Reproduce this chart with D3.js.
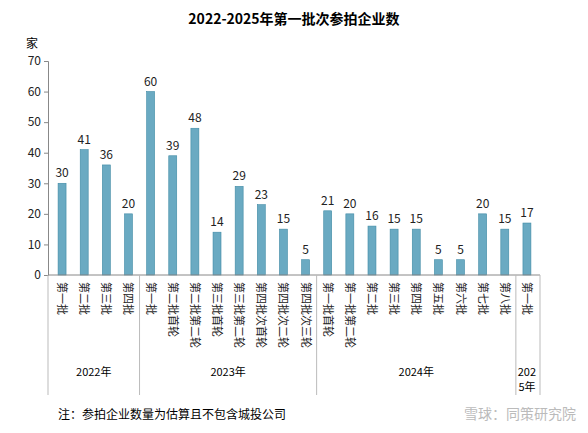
<!DOCTYPE html>
<html><head><meta charset="utf-8">
<script src="https://cdn.jsdelivr.net/npm/d3@7"></script>
<style>body{margin:0;background:#fff}text{font-family:"Noto Sans CJK SC","Noto Sans",sans-serif}</style>
</head><body><div id="chart"></div>
<script>
const batches = ['第一批','第二批','第三批','第四批',
  '第一批','第二批首轮','第二批第二轮','第三批首轮','第三批第二轮','第四批次首轮','第四批次二轮','第四批次三轮',
  '第一批首轮','第一批第二轮','第二批','第三批','第四批','第五批','第六批','第七批','第八批',
  '第一批'];
const values = [30,41,36,20, 60,39,48,14,29,23,15,5, 21,20,16,15,15,5,5,20,15, 17];
const years = ['2022年','2023年','2024年','2025年'];
const yearCounts = [4,8,9,1];
const yTicks = [0,10,20,30,40,50,60,70];

const width = 588, height = 433;
const svg = d3.select('#chart').append('svg').attr('width', width).attr('height', height);

const x = d3.scaleBand().domain(d3.range(values.length)).range([51, 538]).paddingInner(0.64).paddingOuter(0.32);
const y = d3.scaleLinear().domain([0, 70]).range([275, 61]);

svg.append('text').attr('x', 294).attr('y', 24).attr('text-anchor', 'middle')
  .attr('font-size', 14).attr('font-weight', 'bold').text('2022-2025年第一批次参拍企业数');
svg.append('text').attr('x', 26).attr('y', 48).attr('font-size', 12).text('家');

const ya = svg.append('g').attr('transform', 'translate(48,0)')
  .call(d3.axisLeft(y).tickValues(yTicks).tickSize(4));
ya.selectAll('text').attr('font-size', 12).attr('fill', '#222');
ya.selectAll('line,path').attr('stroke', '#888');

svg.append('g').selectAll('rect').data(values).join('rect')
  .attr('x', (d, i) => x(i)).attr('y', d => y(d))
  .attr('width', x.bandwidth()).attr('height', d => y(0) - y(d))
  .attr('fill', '#6aaac2').attr('stroke', '#3f8aa5').attr('stroke-width', 0.6);

svg.append('g').selectAll('text').data(values).join('text')
  .attr('x', (d, i) => x(i) + x.bandwidth() / 2).attr('y', d => y(d) - 6)
  .attr('text-anchor', 'middle').attr('font-size', 12).attr('fill', '#222').text(d => d);

const g = svg.append('g').attr('stroke', '#bbb').attr('stroke-width', 1);
g.append('line').attr('x1', 48).attr('x2', 540).attr('y1', 275).attr('y2', 275).attr('stroke', '#888');
g.append('line').attr('x1', 48).attr('x2', 48).attr('y1', 275).attr('y2', 395);
g.append('line').attr('x1', 540).attr('x2', 540).attr('y1', 275).attr('y2', 395);

svg.append('g').selectAll('text').data(batches).join('text')
  .attr('transform', (d, i) => `translate(${x(i) + x.bandwidth() / 2 - 4},282) rotate(90)`)
  .attr('font-size', 11).attr('fill', '#222').text(d => d);

const step = x.step();
let start = 0;
years.forEach((yr, k) => {
  const x0 = x(start) - x.step() * x.paddingInner() / 2 - (start === 0 ? 3 : 0);
  const n = yearCounts[k];
  const x1 = x(start + n - 1) + x.bandwidth() + step * x.paddingInner() / 2;
  if (start > 0) g.append('line').attr('x1', x0).attr('x2', x0).attr('y1', 275).attr('y2', 395);
  const cx = (Math.max(x0, 48) + Math.min(x1, 540)) / 2;
  if (n > 1) {
    svg.append('text').attr('x', cx).attr('y', 376).attr('text-anchor', 'middle').attr('font-size', 11).text(yr);
  } else {
    svg.append('text').attr('x', cx).attr('y', 376).attr('text-anchor', 'middle').attr('font-size', 11).text(yr.slice(0, 3));
    svg.append('text').attr('x', cx).attr('y', 391).attr('text-anchor', 'middle').attr('font-size', 11).text(yr.slice(3));
  }
  start += n;
});

svg.append('text').attr('x', 58).attr('y', 419).attr('font-size', 12).text('注：参拍企业数量为估算且不包含城投公司');
svg.append('text').attr('x', 576).attr('y', 419).attr('text-anchor', 'end').attr('font-size', 14)
  .attr('fill', '#bbb').text('雪球：同策研究院');
</script></body></html>
